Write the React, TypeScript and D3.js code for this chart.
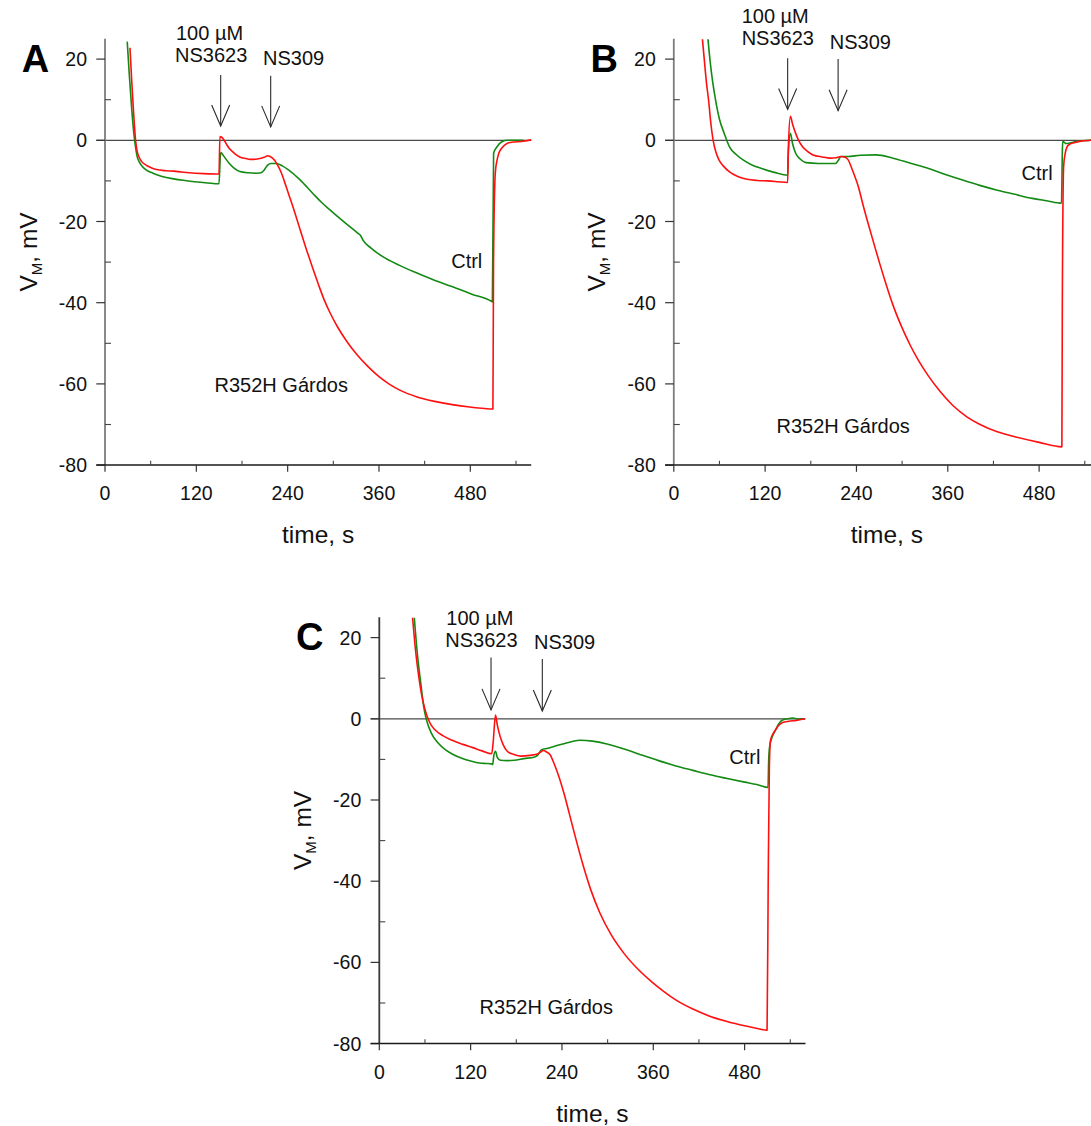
import React from "react";
import * as d3 from "d3";

// Membrane potential recordings (time in s, V_M in mV)
const ctrlA: [number, number][] = [
  [29.2, 24.3], [32, 16], [35, 8], [37.9, 1.7], [40, -1.5], [42.4, -4.1], [45, -5.3], [49.3, -6.5],
  [55, -7.4], [63, -8.1], [75, -8.9], [90.4, -9.5], [105, -9.9], [117.8, -10.2], [135, -10.5],
  [149.8, -10.7], [151.5, -4], [152.5, -3.0], [156, -3.9], [163.4, -5.7], [170, -6.9], [177.1, -7.7],
  [188, -8.0], [200, -8.1], [205, -8.0], [209.2, -7.3], [213.7, -6.1], [218, -5.7], [225.1, -5.7],
  [233, -6.3], [241.1, -7.3], [256, -9.7], [273.1, -13.1], [284, -15.2], [295.9, -17.2], [314, -20.1],
  [332.4, -22.9], [336, -23.5], [339, -24.6], [350, -26.6], [364.4, -28.6], [387, -30.8],
  [410.1, -32.7], [432, -34.4], [455.8, -36], [482, -37.9], [508.2, -39.7], [509, -39.8],
  [510.6, -3.2], [515.1, -1.6], [522, -0.3], [528.8, 0], [542.5, 0], [550, 0],
];
const r352hA: [number, number][] = [
  [32.8, 22.8], [35, 15], [37.5, 7], [40.2, 0], [42, -2.5], [44.7, -4.1], [48, -5.2], [53.9, -6.1],
  [60, -6.7], [67.5, -7.2], [80, -7.5], [90.4, -7.6], [100, -7.8], [110.9, -8.0], [130, -8.2],
  [149.8, -8.3], [151, 0.9], [153, 0.8], [156.6, 0], [160, -1.1], [163.4, -2.0], [170, -3.2],
  [177.1, -4.1], [185, -4.5], [190.9, -4.7], [200, -4.6], [209.2, -4.2], [213.7, -3.8], [217, -4.0],
  [222.8, -4.9], [227, -6.2], [231.9, -8.1], [236, -10.3], [241, -13.1], [248, -17], [255, -21.2],
  [264, -26.5], [273, -31.5], [281, -35.8], [288, -39.3], [296, -42.6], [305, -45.8], [318, -49.6],
  [332, -53.0], [346, -55.8], [360, -58.2], [374, -60.1], [388, -61.6], [410, -63.2], [433, -64.3],
  [456, -65.1], [479, -65.7], [495, -66.0], [509.7, -66.2],
  [510.5, -30], [512.8, -8.1], [515, -5], [517.4, -3.2], [522, -1.8], [528.8, -0.7], [537, -0.4],
  [547.1, -0.3], [560, 0.1],
];

const ctrlB: [number, number][] = [
  [44.9, 24.9], [48, 19], [51, 14.5], [54.9, 9.9], [60, 5.2], [66.3, 1.7], [73.2, -1.6], [82, -3.5],
  [91.5, -4.9], [102, -6.0], [114.4, -6.9], [132, -7.9], [149.6, -8.6], [150.5, -3], [153.2, 1.7],
  [156, -0.8], [160.1, -3.2], [166, -4.6], [173.7, -5.5], [190, -5.7], [212.6, -5.7], [216, -5.0],
  [219.6, -4.0], [228.7, -4.0], [245, -3.7], [265.3, -3.6], [288.1, -4.4], [310, -5.6],
  [333.8, -6.9], [355, -8.3], [379.5, -9.8], [402, -11.1], [425.2, -12.3], [448, -13.3],
  [471, -14.3], [490, -14.9], [509.4, -15.5], [510.5, -3], [511, -0.3], [516, -0.8], [522, -0.6],
  [531, -0.2], [548, 0], [560, 0.1],
];
const r352hB: [number, number][] = [
  [37.6, 24.9], [40, 20], [43, 14], [45.7, 9.9], [48.5, 4.5], [51.7, 0], [55, -2.7], [59.5, -4.9],
  [65, -6.3], [73.2, -7.8], [84, -8.9], [96.1, -9.6], [110, -9.9], [123.5, -10], [137, -10.2],
  [149.6, -10.4], [150.5, -2], [153.2, 5.9], [156, 4], [160.1, 1.7], [164, 0], [169.2, -1.6],
  [176, -2.8], [182.9, -3.6], [195, -4.1], [205.8, -4.4], [213, -4.3], [219.6, -4.0], [224, -4.1],
  [228.7, -4.7], [235, -7.5], [242.4, -11.4], [249, -16.2], [256.1, -21.0], [263, -25.5],
  [270, -30.0], [279, -35.5], [288, -40.6], [300, -46.2], [311, -50.6], [322, -54.4],
  [334, -57.9], [350, -61.9], [366, -65.2], [385, -68.1], [402.4, -70.0], [425, -71.8],
  [448.1, -73.0], [480, -74.4], [509.9, -75.5], [510.5, -40], [512.2, -6.5], [514, -3.5],
  [516.7, -1.6], [520, -1.0], [525.8, -0.6], [535, -0.2], [548, 0], [560, 0.1],
];

const ctrlC: [number, number][] = [
  [46, 24.9], [50, 16], [55, 8.0], [57, 4.8], [59.5, 1.8], [63, -0.9], [68.5, -3.6], [77, -5.9],
  [86.7, -7.6], [97, -8.8], [109.3, -9.8], [120, -10.4], [131.9, -10.9], [140, -11.0],
  [147.7, -11.1], [149, -11.3], [150.5, -9], [152.7, -8.0], [155, -9.5], [159, -10.2], [168, -10.3],
  [177.2, -10.2], [190, -9.8], [204.2, -9.4], [208, -9.0], [213.3, -7.6], [220, -7.3],
  [231.4, -6.7], [247, -5.9], [263, -5.3], [280, -5.5], [299.2, -6.2], [321, -7.4], [344.4, -8.9],
  [367, -10.3], [389.6, -11.6], [412, -12.7], [434.8, -13.8], [457, -14.7], [480.1, -15.6],
  [496, -16.2], [510.8, -16.9], [511.5, -11], [512.7, -7.1], [516, -4.6], [520.8, -2.7],
  [525, -1.2], [529.9, -0.3], [536, 0], [543.4, 0.2], [550, -0.1], [559.2, 0],
];
const r352hC: [number, number][] = [
  [43.7, 24.9], [47, 18], [50.4, 12.4], [54, 7.7], [57.3, 4.4], [60.5, 2], [64.1, 0], [68, -1.5],
  [73.1, -2.7], [84, -4.2], [95.7, -5.3], [110, -6.3], [122.8, -7.1], [135, -7.9], [147.7, -8.6],
  [149.5, -6], [152.7, 0.9], [155, -1.5], [159, -4.5], [163, -6.5], [168.1, -8.0], [177, -8.8],
  [186.1, -9.2], [198, -9.0], [208.8, -8.6], [212, -8.2], [215.5, -7.8], [220, -8.2], [224.6, -8.9],
  [230, -11.2], [235.9, -14.2], [243, -18.6], [250, -23.6], [258, -29.4], [267.5, -35.9],
  [278, -42.2], [290, -47.9], [305, -53.3], [322, -57.9], [340, -61.7], [358, -64.8],
  [374, -67.2], [390, -69.3], [412, -71.5], [435, -73.3], [458, -74.6], [480, -75.6],
  [495, -76.2], [509.5, -76.7], [511, -40], [512.5, -12], [514, -5.3], [517, -3.8], [520.8, -2.7],
  [525, -1.6], [529.9, -0.9], [538, -0.6], [547.9, -0.4], [559.2, 0],
];

// Axis ticks
const timeMajorTicks = [0, 120, 240, 360, 480];
const timeMinorTicks = [60, 180, 300, 420, 540];
const vMajorTicks = [20, 0, -20, -40, -60, -80];
const vMinorTicks = [10, -10, -30, -50, -70];

const TIME_DOMAIN: [number, number] = [0, 560];
const V_DOMAIN: [number, number] = [-80, 25];

const FONT = "'Liberation Sans', Arial, Helvetica, sans-serif";
const RED = "#ff1010";
const GREEN = "#138a13";

type Note = { t: number; v: number };
type PanelCfg = {
  letter: string;
  left: number;
  top: number;
  ctrl: [number, number][];
  mut: [number, number][];
  yAxisColor: string;
  lbl100: Note;
  lblNS3623: Note;
  lblNS309: Note;
  arrow1: { t: number; v0: number; v1: number };
  arrow2: { t: number; v0: number; v1: number };
  lblCtrl: Note;
  lblMut: Note;
};

const panels: PanelCfg[] = [
  {
    letter: "A", left: 105, top: 38.8, ctrl: ctrlA, mut: r352hA, yAxisColor: "#7d7d7d",
    lbl100: { t: 93.3, v: 24.7 }, lblNS3623: { t: 92, v: 19.4 }, lblNS309: { t: 207.6, v: 18.5 },
    arrow1: { t: 152, v0: 16.1, v1: 3.5 }, arrow2: { t: 217.7, v0: 15.9, v1: 3.3 },
    lblCtrl: { t: 454.9, v: -31.5 }, lblMut: { t: 143.9, v: -61.9 },
  },
  {
    letter: "B", left: 673.8, top: 38.8, ctrl: ctrlB, mut: r352hB, yAxisColor: "#7d7d7d",
    lbl100: { t: 89.2, v: 28.8 }, lblNS3623: { t: 89.2, v: 23.5 }, lblNS309: { t: 204.9, v: 22.6 },
    arrow1: { t: 149.6, v0: 20.2, v1: 7.6 }, arrow2: { t: 215.9, v0: 20.0, v1: 7.3 },
    lblCtrl: { t: 456.9, v: -9.8 }, lblMut: { t: 134.9, v: -72.1 },
  },
  {
    letter: "C", left: 379.3, top: 617.3, ctrl: ctrlC, mut: r352hC, yAxisColor: "#3a3a3a",
    lbl100: { t: 88, v: 23.1 }, lblNS3623: { t: 86.7, v: 17.8 }, lblNS309: { t: 203.3, v: 17.3 },
    arrow1: { t: 146.8, v0: 15.1, v1: 2.2 }, arrow2: { t: 214.2, v0: 14.7, v1: 1.9 },
    lblCtrl: { t: 459.8, v: -11.1 }, lblMut: { t: 131.8, v: -72.6 },
  },
];

const W = 426.2;
const H = 426.3;

function Arrow({ x, y0, y1 }: { x: number; y0: number; y1: number }) {
  return (
    <g stroke="#2a2a2a" strokeWidth={1.1} fill="none">
      <line x1={x} y1={y0} x2={x} y2={y1} />
      <polyline points={`${x - 9},${y1 - 21} ${x},${y1} ${x + 9},${y1 - 21}`} />
    </g>
  );
}

function Panel({ p }: { p: PanelCfg }) {
  const x = d3.scaleLinear().domain(TIME_DOMAIN).range([0, W]);
  const y = d3.scaleLinear().domain(V_DOMAIN).range([H, 0]);
  const line = d3
    .line<[number, number]>()
    .x((d) => x(d[0]))
    .y((d) => y(d[1]))
    .curve(d3.curveMonotoneX);

  const tickFs = 19.5;
  const noteFs = 20;

  return (
    <g transform={`translate(${p.left},${p.top})`} fontFamily={FONT}>
      {/* zero reference line */}
      <line x1={-8.7} x2={W} y1={y(0)} y2={y(0)} stroke="#4a4a4a" strokeWidth={1.2} />

      {/* y axis */}
      <line x1={0} x2={0} y1={0} y2={H} stroke={p.yAxisColor} strokeWidth={1.8} />
      {vMajorTicks.map((v) => (
        <g key={`ym${v}`}>
          <line x1={-8.7} x2={0} y1={y(v)} y2={y(v)} stroke="#333" strokeWidth={1.2} />
          <text x={-18} y={y(v)} dy="0.36em" textAnchor="end" fontSize={tickFs} fill="#111">
            {v}
          </text>
        </g>
      ))}
      {vMinorTicks.map((v) => (
        <line key={`yn${v}`} x1={0} x2={6} y1={y(v)} y2={y(v)} stroke="#444" strokeWidth={1.1} />
      ))}

      {/* x axis */}
      <line x1={-8.7} x2={W} y1={H} y2={H} stroke="#1a1a1a" strokeWidth={1.5} />
      {timeMajorTicks.map((t) => (
        <g key={`xm${t}`}>
          <line x1={x(t)} x2={x(t)} y1={H} y2={H + 6.7} stroke="#333" strokeWidth={1.2} />
          <text x={x(t)} y={H + 35} textAnchor="middle" fontSize={tickFs} fill="#111">
            {t}
          </text>
        </g>
      ))}
      {timeMinorTicks.map((t) => (
        <line key={`xn${t}`} x1={x(t)} x2={x(t)} y1={H - 4.3} y2={H} stroke="#444" strokeWidth={1.1} />
      ))}

      {/* axis titles */}
      <text x={W / 2} y={H + 78} textAnchor="middle" fontSize={24.5} fill="#111">
        time, s
      </text>
      <text
        transform={`translate(${-68.5},${H / 2}) rotate(-90)`}
        textAnchor="middle"
        fontSize={24.5}
        fill="#111"
      >
        V<tspan fontSize={15} dy={5}>M</tspan>
        <tspan dy={-5}>, mV</tspan>
      </text>

      {/* panel letter */}
      <text x={-83.3} y={32.9} fontSize={38} fontWeight="bold" fill="#000">
        {p.letter}
      </text>

      {/* traces */}
      <path d={line(p.ctrl) ?? ""} fill="none" stroke={GREEN} strokeWidth={1.6} strokeLinejoin="round" />
      <path d={line(p.mut) ?? ""} fill="none" stroke={RED} strokeWidth={1.6} strokeLinejoin="round" />

      {/* drug application labels */}
      <text x={x(p.lbl100.t)} y={y(p.lbl100.v)} fontSize={noteFs} fill="#111">
        100 µM
      </text>
      <text x={x(p.lblNS3623.t)} y={y(p.lblNS3623.v)} fontSize={noteFs} fill="#111">
        NS3623
      </text>
      <text x={x(p.lblNS309.t)} y={y(p.lblNS309.v)} fontSize={noteFs} fill="#111">
        NS309
      </text>
      <Arrow x={x(p.arrow1.t)} y0={y(p.arrow1.v0)} y1={y(p.arrow1.v1)} />
      <Arrow x={x(p.arrow2.t)} y0={y(p.arrow2.v0)} y1={y(p.arrow2.v1)} />

      {/* trace labels */}
      <text x={x(p.lblCtrl.t)} y={y(p.lblCtrl.v)} fontSize={noteFs} fill="#111">
        Ctrl
      </text>
      <text x={x(p.lblMut.t)} y={y(p.lblMut.v)} fontSize={noteFs} fill="#111">
        R352H Gárdos
      </text>
    </g>
  );
}

export default function App() {
  return (
    <svg
      width={1091}
      height={1126}
      viewBox="0 0 1091 1126"
      style={{ position: "absolute", left: 0, top: 0, background: "#fff" }}
    >
      <rect width={1091} height={1126} fill="#fff" />
      {panels.map((p) => (
        <Panel key={p.letter} p={p} />
      ))}
    </svg>
  );
}
